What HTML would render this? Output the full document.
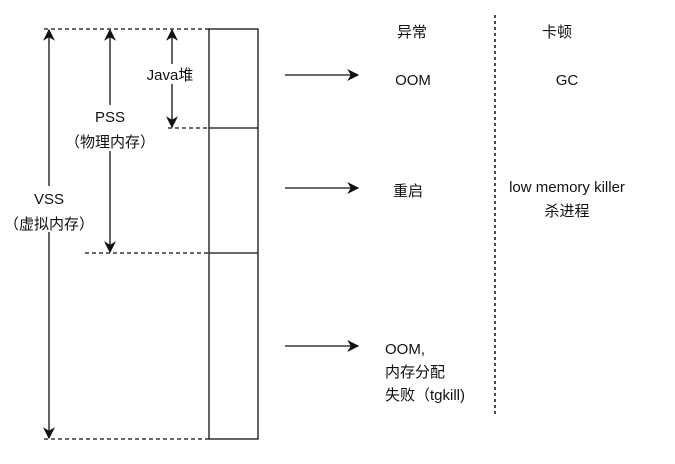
<!DOCTYPE html>
<html><head><meta charset="utf-8"><style>
body{margin:0;background:#fff}
svg text{font-family:"Liberation Sans","Noto Sans CJK SC",sans-serif;font-size:15px;fill:#111}
</style></head><body>
<svg width="675" height="459" viewBox="0 0 675 459" xmlns="http://www.w3.org/2000/svg">
<defs><marker id="a" viewBox="0 0 10 10" refX="9" refY="5" markerWidth="12" markerHeight="12" orient="auto-start-reverse" markerUnits="userSpaceOnUse"><path d="M0,0 L10,5 L0,10 L3,5 Z" fill="#111"/></marker></defs>
<g stroke="#111" stroke-width="1.3" fill="none">
<rect x="209" y="29" width="49" height="410"/>
<line x1="209" y1="128" x2="258" y2="128"/>
<line x1="209" y1="253" x2="258" y2="253"/>
<g stroke-dasharray="4,3">
<line x1="44" y1="29" x2="209" y2="29"/>
<line x1="168" y1="128" x2="209" y2="128"/>
<line x1="85" y1="253" x2="209" y2="253"/>
<line x1="44" y1="439" x2="209" y2="439"/>
</g>
<line x1="495" y1="15" x2="495" y2="415" stroke-dasharray="3,3" stroke-width="1.5"/>
<line x1="49" y1="30" x2="49" y2="438" marker-start="url(#a)" marker-end="url(#a)"/>
<line x1="110" y1="30" x2="110" y2="252" marker-start="url(#a)" marker-end="url(#a)"/>
<line x1="172" y1="30" x2="172" y2="127" marker-start="url(#a)" marker-end="url(#a)"/>
<line x1="285" y1="75" x2="358" y2="75" marker-end="url(#a)"/>
<line x1="285" y1="188" x2="358" y2="188" marker-end="url(#a)"/>
<line x1="285" y1="346" x2="358" y2="346" marker-end="url(#a)"/>
</g>
<g text-anchor="middle">
<rect x="138" y="64" width="62" height="20" fill="#fff"/>
<text x="170" y="80">Java堆</text>
<rect x="70" y="105" width="84" height="46" fill="#fff"/>
<text x="110" y="122">PSS</text>
<text x="110" y="147">（物理内存）</text>
<rect x="4" y="186" width="90" height="46" fill="#fff"/>
<text x="49" y="204">VSS</text>
<text x="49" y="229">（虚拟内存）</text>
<text x="412" y="37">异常</text>
<text x="557" y="37">卡顿</text>
<text x="413" y="85">OOM</text>
<text x="567" y="85">GC</text>
<text x="408" y="196">重启</text>
<text x="567" y="192">low memory killer</text>
<text x="567" y="216">杀进程</text>
</g>
<text x="385" y="354">OOM,</text>
<text x="385" y="377">内存分配</text>
<text x="385" y="400">失败（tgkill)</text>
</svg>
</body></html>
